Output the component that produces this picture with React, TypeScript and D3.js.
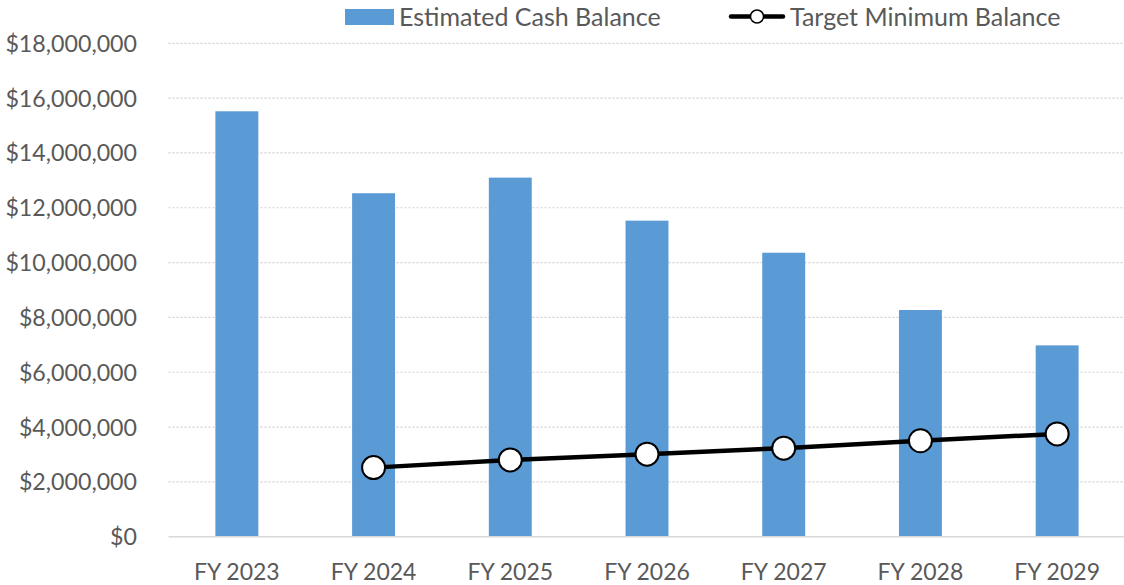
import React from "react";
import * as d3 from "d3";

const categories = ["FY 2023", "FY 2024", "FY 2025", "FY 2026", "FY 2027", "FY 2028", "FY 2029"];
const cashBalance = [15520000, 12530000, 13100000, 11530000, 10360000, 8270000, 6980000];
const targetMinimum = [null, 2520000, 2800000, 3010000, 3230000, 3500000, 3750000];
const yTicks = [0, 2000000, 4000000, 6000000, 8000000, 10000000, 12000000, 14000000, 16000000, 18000000];

const W = 1124;
const H = 585;
const left = 168.5;
const right = 1125.5;
const top = 43.3;
const bottom = 536.7;
const FONT = "Lato, 'Open Sans', sans-serif";
const TXT = "#595959";

export default function App() {
  const x = d3.scaleBand<string>().domain(categories).range([left, right]).paddingInner(0.686).paddingOuter(0.343);
  const y = d3.scaleLinear().domain([0, 18000000]).range([bottom, top]);
  const fmt = (v: number) => "$" + d3.format(",")(v);
  const cx = (c: string) => (x(c) as number) + x.bandwidth() / 2;
  const linePts = categories
    .map((c, i) => ({ c, v: targetMinimum[i] }))
    .filter((d) => d.v !== null) as { c: string; v: number }[];
  const line = d3.line<{ c: string; v: number }>().x((d) => cx(d.c)).y((d) => y(d.v));

  return (
    <svg width={W} height={H} style={{ position: "absolute", left: 0, top: 0 }} fontFamily={FONT}>
      <rect width={W} height={H} fill="#fff" />
      {yTicks.map((t) =>
        t === 0 ? null : (
          <line key={t} x1={left} x2={right} y1={y(t)} y2={y(t)} stroke="#d0d0d0" strokeWidth={1.2} strokeDasharray="2,2" />
        )
      )}
      {yTicks.map((t) => (
        <text key={"l" + t} x={137} y={y(t) + 8.5} textAnchor="end" fontSize={23.2} fill={TXT}>
          {fmt(t)}
        </text>
      ))}
      {categories.map((c, i) => (
        <rect key={c} x={x(c)} y={y(cashBalance[i])} width={x.bandwidth()} height={bottom - y(cashBalance[i])} fill="#5b9bd5" />
      ))}
      <line x1={left} x2={right} y1={bottom} y2={bottom} stroke="#d9d9d9" strokeWidth={1.5} />
      {categories.map((c) => (
        <text key={"x" + c} x={cx(c)} y={580} textAnchor="middle" fontSize={23} fill={TXT}>
          {c}
        </text>
      ))}
      <path d={line(linePts) || ""} fill="none" stroke="#000" strokeWidth={4.5} />
      {linePts.map((d) => (
        <circle key={"m" + d.c} cx={cx(d.c)} cy={y(d.v)} r={11.5} fill="#fff" stroke="#000" strokeWidth={2} />
      ))}
      {/* legend */}
      <rect x={345} y={9} width={49} height={16} fill="#5b9bd5" />
      <text x={399} y={25.5} fontSize={25} fill={TXT}>Estimated Cash Balance</text>
      <line x1={731} x2={783} y1={16.5} y2={16.5} stroke="#000" strokeWidth={4.5} strokeLinecap="round" />
      <circle cx={757} cy={16.5} r={6.5} fill="#fff" stroke="#000" strokeWidth={1.5} />
      <text x={790} y={25.5} fontSize={25} fill={TXT}>Target Minimum Balance</text>
    </svg>
  );
}
